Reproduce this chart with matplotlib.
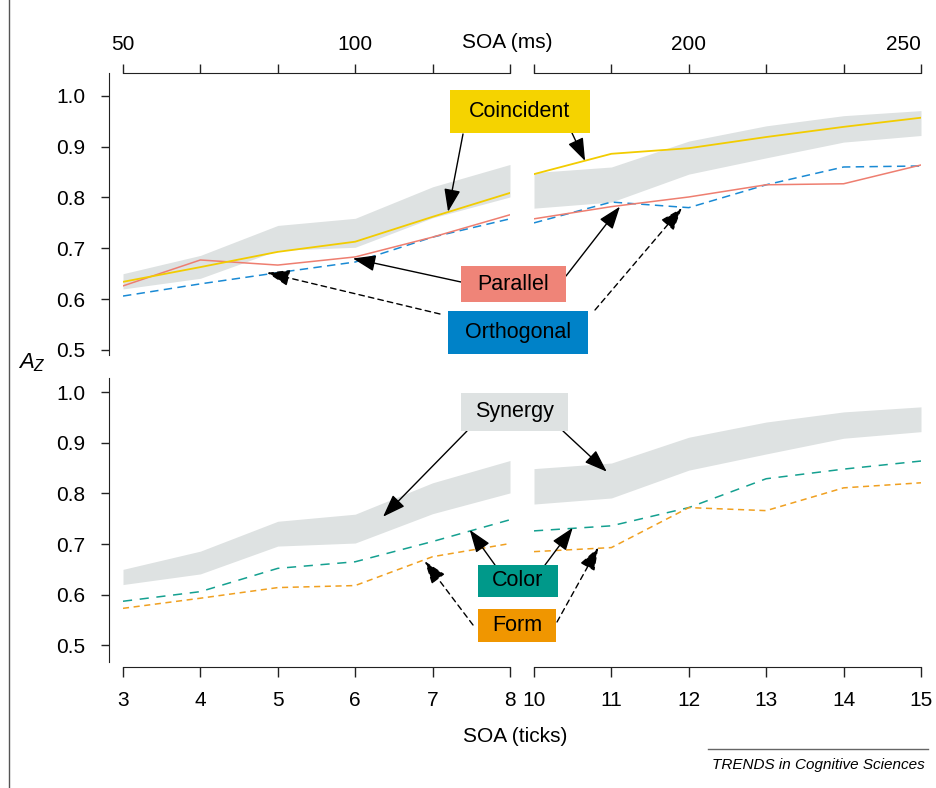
import matplotlib
matplotlib.use('Agg')
import matplotlib.pyplot as plt
from matplotlib.patches import Rectangle
from matplotlib.lines import Line2D

plt.rcParams['font.family'] = ['Liberation Sans', 'DejaVu Sans']
plt.rcParams['mathtext.fontset'] = 'custom'
plt.rcParams['mathtext.it'] = 'Liberation Sans:italic'
plt.rcParams['mathtext.rm'] = 'Liberation Sans'

# SOA in ticks, split in two segments (the axis is broken between 8 and 10)
ticks_a = [3, 4, 5, 6, 7, 8]
ticks_b = [10, 11, 12, 13, 14, 15]

# synergy prediction band (same in both panels)
syn_lo_a = [0.620, 0.641, 0.696, 0.702, 0.760, 0.801]
syn_hi_a = [0.650, 0.686, 0.745, 0.759, 0.821, 0.865]
syn_lo_b = [0.779, 0.791, 0.846, 0.878, 0.909, 0.922]
syn_hi_b = [0.849, 0.860, 0.911, 0.941, 0.961, 0.971]

# top panel
coinc_a = [0.634, 0.663, 0.693, 0.713, 0.762, 0.809]
coinc_b = [0.846, 0.886, 0.897, 0.919, 0.939, 0.957]
paral_a = [0.626, 0.677, 0.667, 0.683, 0.722, 0.766]
paral_b = [0.758, 0.782, 0.801, 0.825, 0.827, 0.864]
ortho_a = [0.606, 0.630, 0.652, 0.673, 0.722, 0.758]
ortho_b = [0.750, 0.791, 0.780, 0.825, 0.860, 0.862]

# bottom panel
color_a = [0.587, 0.606, 0.652, 0.665, 0.705, 0.748]
color_b = [0.726, 0.736, 0.772, 0.829, 0.848, 0.864]
form_a = [0.573, 0.593, 0.614, 0.618, 0.675, 0.701]
form_b = [0.685, 0.693, 0.772, 0.766, 0.811, 0.821]

yticks = [0.5, 0.6, 0.7, 0.8, 0.9, 1.0]
ms_labels = {50: '50', 100: '100', 200: '200', 250: '250'}

W, H = 936, 788
fig = plt.figure(figsize=(W / 100, H / 100), dpi=100)


def fx(x):
    return x / W


def fy(y):
    return 1 - y / H


ax_tl = fig.add_axes([fx(123), fy(355), 387 / W, 282 / H])
ax_tr = fig.add_axes([fx(534), fy(355), 387 / W, 282 / H])
ax_bl = fig.add_axes([fx(123), fy(662), 387 / W, 284 / H])
ax_br = fig.add_axes([fx(534), fy(662), 387 / W, 284 / H])

c_band = '#DEE2E2'
c_coinc = '#F2CC00'
c_paral = '#EE7E70'
c_ortho = '#1A8AD4'
c_color = '#14A090'
c_form = '#F0A020'

for ax, xs, lo, hi in [(ax_tl, ticks_a, syn_lo_a, syn_hi_a), (ax_tr, ticks_b, syn_lo_b, syn_hi_b),
                       (ax_bl, ticks_a, syn_lo_a, syn_hi_a), (ax_br, ticks_b, syn_lo_b, syn_hi_b)]:
    ax.fill_between(xs, lo, hi, color=c_band, lw=0, zorder=1)

ax_tl.plot(ticks_a, ortho_a, color=c_ortho, lw=1.1, ls=(0, (5.5, 3.5)), zorder=3)
ax_tr.plot(ticks_b, ortho_b, color=c_ortho, lw=1.1, ls=(0, (5.5, 3.5)), zorder=3)
ax_tl.plot(ticks_a, paral_a, color=c_paral, lw=1.1, zorder=4)
ax_tr.plot(ticks_b, paral_b, color=c_paral, lw=1.1, zorder=4)
ax_tl.plot(ticks_a, coinc_a, color=c_coinc, lw=1.3, zorder=5)
ax_tr.plot(ticks_b, coinc_b, color=c_coinc, lw=1.3, zorder=5)

ax_bl.plot(ticks_a, color_a, color=c_color, lw=1.1, ls=(0, (6, 5)), zorder=3)
ax_br.plot(ticks_b, color_b, color=c_color, lw=1.1, ls=(0, (6, 5)), zorder=3)
ax_bl.plot(ticks_a, form_a, color=c_form, lw=1.1, ls=(0, (4, 3)), zorder=3)
ax_br.plot(ticks_b, form_b, color=c_form, lw=1.1, ls=(0, (4, 3)), zorder=3)

for ax in [ax_tl, ax_tr]:
    ax.set_ylim(0.49, 1.045)
for ax in [ax_bl, ax_br]:
    ax.set_ylim(0.467, 1.028)
for ax in [ax_tl, ax_bl]:
    ax.set_xlim(3, 8)
for ax in [ax_tr, ax_br]:
    ax.set_xlim(10, 15)

for ax in [ax_tl, ax_tr, ax_bl, ax_br]:
    ax.patch.set_visible(False)
    for s in ax.spines.values():
        s.set_visible(False)
    ax.tick_params(axis='both', colors='#222222', labelcolor='black', labelsize=15,
                   width=1, direction='out')

for ax in [ax_tl, ax_bl]:
    ax.spines['left'].set_visible(True)
    ax.spines['left'].set_position(('outward', 10))
    ax.spines['left'].set_color('#222222')
    ax.set_yticks(yticks)
    ax.set_yticklabels([f'{v:.1f}' for v in yticks])
    ax.tick_params(axis='y', length=6, pad=11)
for ax in [ax_tr, ax_br]:
    ax.tick_params(axis='y', left=False, labelleft=False)

for ax in [ax_tl, ax_tr]:
    ax.tick_params(axis='x', bottom=False, labelbottom=False)

for ax, xs in [(ax_bl, ticks_a), (ax_br, ticks_b)]:
    ax.spines['bottom'].set_visible(True)
    ax.spines['bottom'].set_position(('outward', 3.6))
    ax.spines['bottom'].set_color('#222222')
    ax.set_xticks(xs)
    ax.set_xticklabels([str(v) for v in xs])
    ax.tick_params(axis='x', length=7, pad=10)


def to_ms(t):
    return t * 50.0 / 3.0


def to_ticks(m):
    return m * 3.0 / 50.0


for ax, xs in [(ax_tl, ticks_a), (ax_tr, ticks_b)]:
    sec = ax.secondary_xaxis('top', functions=(to_ms, to_ticks))
    ms = [to_ms(t) for t in xs]
    sec.set_xticks(ms)
    labs = sec.set_xticklabels([ms_labels.get(int(round(m)), '') for m in ms])
    sec.spines['top'].set_color('#222222')
    sec.tick_params(axis='x', length=6.5, width=1, direction='out', pad=7,
                    labelsize=15, colors='#222222', labelcolor='black')
    if ax is ax_tr:
        # last label sits at the right edge, as in the original
        labs[-1].set_horizontalalignment('right')
        labs[-1].set_x(labs[-1].get_position()[0])

fig.text(fx(507), fy(42), 'SOA (ms)', ha='center', va='center', fontsize=15)
fig.text(fx(515), fy(736), 'SOA (ticks)', ha='center', va='center', fontsize=15)
fig.text(fx(18), fy(363), r'$A_Z$', ha='left', va='center', fontsize=16)

# label boxes: (text, colour, x0, y0, x1, y1) in pixels from top-left
boxes = [
    ('Coincident', '#F5D300', 450, 90, 590, 133),
    ('Parallel', '#EF8478', 461, 266, 566, 302),
    ('Orthogonal', '#0082C8', 448, 311, 588, 354),
    ('Synergy', c_band, 461, 393, 568, 431),
    ('Color', '#00998A', 478, 565, 558, 597),
    ('Form', '#F09600', 478, 609, 556, 642),
]
for label, col, x0, y0, x1, y1 in boxes:
    fig.add_artist(Rectangle((fx(x0), fy(y1)), (x1 - x0) / W, (y1 - y0) / H,
                             transform=fig.transFigure, facecolor=col, edgecolor='none', zorder=5))
    fig.text(fx((x0 + x1) / 2), fy((y0 + y1) / 2), label, ha='center', va='center',
             fontsize=15.5, zorder=6)

solid = dict(arrowstyle='-|>,head_length=1.0,head_width=0.36', color='black', lw=1,
             shrinkA=0, shrinkB=0, mutation_scale=14)
dashed = dict(solid, linestyle=(0, (4, 3)))

# arrows: axes, target (data), start (pixels from top-left), style
arrows = [
    (ax_tl, (7.2, 0.772), (463, 134), solid),
    (ax_tr, (10.66, 0.872), (572, 133), solid),
    (ax_tl, (5.97, 0.680), (461, 282), solid),
    (ax_tr, (11.11, 0.782), (566, 276), solid),
    (ax_tl, (4.86, 0.652), (440, 314), dashed),
    (ax_tr, (11.91, 0.779), (595, 310), dashed),
    (ax_bl, (6.36, 0.754), (467, 431), solid),
    (ax_br, (10.94, 0.843), (563, 431), solid),
    (ax_bl, (7.48, 0.728), (495, 565), solid),
    (ax_br, (10.50, 0.732), (545, 565), solid),
    (ax_bl, (6.90, 0.666), (473, 625), dashed),
    (ax_br, (10.83, 0.693), (557, 622), dashed),
]
for ax, xy, start, props in arrows:
    ax.annotate('', xy=xy, xycoords='data', xytext=(start[0], H - start[1]),
                textcoords='figure pixels', arrowprops=props, annotation_clip=False, zorder=7)

fig.add_artist(Line2D([fx(9), fx(9)], [0, 1], transform=fig.transFigure, color='#555555', lw=1))
fig.add_artist(Line2D([fx(708), fx(928)], [fy(749), fy(749)], transform=fig.transFigure,
                      color='#666666', lw=1))
fig.text(fx(925), fy(765), 'TRENDS in Cognitive Sciences', ha='right', va='center',
         fontsize=11, style='italic')

fig.savefig('out.png', dpi=100)
